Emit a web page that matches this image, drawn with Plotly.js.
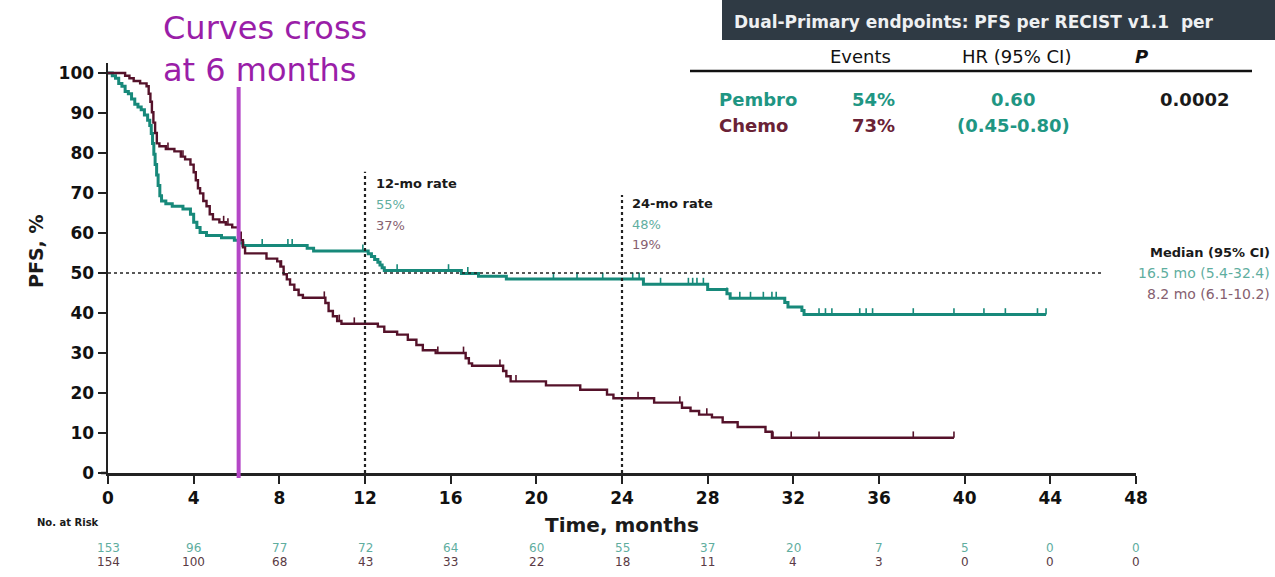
<!DOCTYPE html>
<html>
<head>
<meta charset="utf-8">
<script src="https://cdn.plot.ly/plotly-3.0.1.min.js"></script>
<style>html,body{margin:0;padding:0;background:#fff;}#chart{width:1275px;height:577px;}</style>
</head>
<body>
<div id="chart"></div>
<script>
// ---------------- DATA ----------------
const xTicks = [0, 4, 8, 12, 16, 20, 24, 28, 32, 36, 40, 44, 48];
const yTicks = [0, 10, 20, 30, 40, 50, 60, 70, 80, 90, 100];

// Pembro KM step curve (time in months, PFS %)
const pembroT = [0, 0.2, 0.35, 0.5, 0.65, 0.8, 0.95, 1.1, 1.25, 1.4, 1.55, 1.7, 1.85, 1.95, 2.02, 2.08, 2.14, 2.2, 2.27, 2.34, 2.42, 2.5, 2.7, 3.0, 3.5, 3.85, 4.0, 4.15, 4.3, 4.6, 5.3, 5.9, 6.1, 6.3, 9.3, 9.6, 12.15, 12.3, 12.45, 12.6, 12.7, 12.8, 12.9, 16.5, 17.3, 18.6, 25.0, 28.0, 28.9, 29.05, 31.6, 31.75, 32.4, 32.5, 43.8];
const pembroS = [100, 99.3, 98.7, 97.4, 96.7, 95.4, 94.8, 93.5, 92.2, 91.5, 90.8, 89.5, 88.2, 86.9, 84.9, 82.4, 79.7, 77.1, 74.5, 71.9, 69.3, 68.0, 67.3, 66.7, 66.0, 64.7, 62.7, 61.4, 60.1, 59.4, 58.8, 58.2, 57.5, 56.9, 56.2, 55.5, 54.8, 54.1, 53.4, 52.7, 52.0, 51.3, 50.6, 49.9, 49.2, 48.5, 47.2, 45.9, 44.8, 43.7, 42.6, 41.5, 40.6, 39.6, 39.6];
const pembroCensor = [7.2, 8.4, 8.6, 11.9, 13.5, 15.9, 16.8, 20.8, 21.9, 23.1, 24.5, 24.8, 25.8, 27.1, 27.3, 27.5, 27.8, 28.9, 29.5, 30.0, 30.6, 31.0, 31.2, 33.2, 33.5, 33.8, 35.1, 35.4, 35.7, 37.6, 39.5, 40.9, 41.9, 43.4, 43.8];

// Chemo KM step curve
const chemoT = [0, 0.8, 1.0, 1.2, 1.5, 1.8, 1.9, 1.98, 2.05, 2.12, 2.2, 2.28, 2.4, 2.7, 3.1, 3.4, 3.6, 3.85, 4.0, 4.1, 4.2, 4.3, 4.45, 4.6, 4.75, 4.9, 5.2, 5.5, 5.8, 6.1, 6.2, 6.3, 6.4, 7.4, 7.9, 8.05, 8.2, 8.35, 8.5, 8.7, 8.9, 9.1, 10.15, 10.3, 10.5, 10.7, 10.9, 12.6, 12.9, 13.5, 14.0, 14.4, 14.7, 15.3, 16.7, 16.85, 17.0, 18.45, 18.6, 18.8, 20.45, 22.05, 23.3, 23.6, 25.5, 26.8, 27.2, 27.6, 28.2, 28.7, 29.4, 30.7, 31.0, 39.5];
const chemoS = [100, 99.3, 98.7, 98.0, 97.4, 96.7, 94.8, 92.8, 90.2, 87.6, 85.0, 82.4, 81.7, 81.0, 80.4, 79.1, 78.4, 77.1, 75.2, 73.2, 71.2, 69.9, 68.0, 66.7, 64.7, 63.4, 62.7, 62.1, 61.4, 60.1, 58.2, 56.4, 54.9, 53.6, 52.9, 51.6, 49.7, 48.4, 47.1, 45.8, 44.5, 43.8, 42.5, 40.5, 39.2, 38.0, 37.3, 36.6, 35.3, 34.6, 33.3, 32.0, 30.7, 30.0, 28.7, 27.4, 26.8, 25.5, 24.2, 22.9, 21.9, 20.8, 19.6, 18.7, 17.6, 16.3, 15.5, 14.6, 13.9, 12.7, 11.5, 10.3, 8.8, 8.8];
const chemoCensor = [2.8, 3.5, 5.4, 5.6, 8.1, 10.1, 10.8, 11.5, 15.4, 16.6, 18.3, 19.05, 24.75, 26.7, 27.96, 31.05, 31.9, 33.2, 37.6, 39.5];

// Numbers at risk
const atRiskPembro = [153, 96, 77, 72, 64, 60, 55, 37, 20, 7, 5, 0, 0];
const atRiskChemo = [154, 100, 68, 43, 33, 22, 18, 11, 4, 3, 0, 0, 0];

// Texts
const crossText = ["Curves cross", "at 6 months"];
const crossMonth = 6.1;
const medianLevel = 50;
const rateMonths = [12, 24];
const rateTitles = ["12-mo rate", "24-mo rate"];
const ratePembro = ["55%", "48%"];
const rateChemo = ["37%", "19%"];
const bannerText = "Dual-Primary endpoints: PFS per RECIST v1.1  per";
const tableHeader = ["Events", "HR (95% CI)", "<i>P</i>"];
const armNames = ["Pembro", "Chemo"];
const armEvents = ["54%", "73%"];
const hrText = ["0.60", "(0.45-0.80)"];
const pText = "0.0002";
const medianTitle = "Median (95% CI)";
const medianTexts = ["16.5 mo (5.4-32.4)", "8.2 mo (6.1-10.2)"];
const xTitle = "Time, months";
const yTitle = "PFS, %";
const atRiskTitle = "No. at Risk";

// ---------------- STYLE ----------------
const TEAL = '#17897a';
const TEAL_TXT = '#1f9683';
const TEAL_LIGHT = '#5fae9f';
const MAROON = '#55122a';
const MAROON_TXT = '#6a2236';
const MAROON_LIGHT = '#866070';
const PURPLE = '#9a1ea8';
const PURPLE_LINE = '#b446c6';
const FONT = 'DejaVu Sans, Arial, sans-serif';

// plot box in pixels
const L = 108, R = 1136, T = 63, B = 473;
const px2x = p => (p - L) / (R - L);
const py2y = p => (B - p) / (B - T);

function stepAt(ts, ss, t) {
  let v = ss[0];
  for (let i = 0; i < ts.length; i++) { if (ts[i] <= t) v = ss[i]; }
  return v;
}

function ann(text, px, py, size, color, opts) {
  return Object.assign({
    xref: 'paper', yref: 'paper', x: px2x(px), y: py2y(py),
    text: text, showarrow: false, xanchor: 'left', yanchor: 'middle',
    font: { family: FONT, size: size, color: color }
  }, opts || {});
}

const censorTrace = (ts, ss, times, color) => ({
  x: times, y: times.map(t => stepAt(ts, ss, t)),
  mode: 'markers', type: 'scatter', hoverinfo: 'skip', showlegend: false,
  marker: { size: 1, color: color, opacity: 0 },
  error_y: { type: 'data', symmetric: false, array: times.map(() => 1.6), arrayminus: times.map(() => 0), width: 0, thickness: 1.6, color: color }
});

const traces = [
  { x: pembroT, y: pembroS, type: 'scatter', mode: 'lines', line: { shape: 'hv', color: TEAL, width: 3 }, name: armNames[0], showlegend: false },
  { x: chemoT, y: chemoS, type: 'scatter', mode: 'lines', line: { shape: 'hv', color: MAROON, width: 2.4 }, name: armNames[1], showlegend: false },
  censorTrace(pembroT, pembroS, pembroCensor, TEAL),
  censorTrace(chemoT, chemoS, chemoCensor, MAROON)
];

const shapes = [
  // median dashed line
  { type: 'line', xref: 'x', yref: 'y', x0: 0, x1: 46.4, y0: medianLevel, y1: medianLevel, line: { color: '#222', width: 1.4, dash: '3px,3px' } },
  // rate dotted verticals
  { type: 'line', xref: 'x', yref: 'y', x0: rateMonths[0], x1: rateMonths[0], y0: 0, y1: 75.3, line: { color: '#222', width: 2.2, dash: 'dot' } },
  { type: 'line', xref: 'x', yref: 'y', x0: rateMonths[1], x1: rateMonths[1], y0: 0, y1: 69.5, line: { color: '#222', width: 2.2, dash: 'dot' } },
  // crossing line
  { type: 'line', xref: 'x', yref: 'paper', x0: crossMonth, x1: crossMonth, y0: py2y(478), y1: py2y(87), line: { color: PURPLE_LINE, width: 4 } },
  // x axis stub left of origin
  { type: 'line', xref: 'paper', yref: 'paper', x0: px2x(101), x1: px2x(108), y0: 0, y1: 0, line: { color: '#222', width: 2.5 } },
  // banner
  { type: 'rect', xref: 'paper', yref: 'paper', x0: px2x(722), x1: px2x(1290), y0: py2y(40), y1: py2y(-5), fillcolor: '#2f3a44', line: { width: 0 } },
  // table header rule
  { type: 'line', xref: 'paper', yref: 'paper', x0: px2x(690), x1: px2x(1252), y0: py2y(71), y1: py2y(71), line: { color: '#111', width: 2.5 } }
];

const annotations = [
  ann(crossText[0], 161, 28, 32, PURPLE),
  ann(crossText[1], 161, 70, 32, PURPLE),
  ann('<b>' + bannerText + '</b>', 732, 22, 17, '#eef0f2'),
  ann(tableHeader[0], 860, 57, 18, '#111', { xanchor: 'center' }),
  ann(tableHeader[1], 1016, 57, 18, '#111', { xanchor: 'center' }),
  ann('<b>' + tableHeader[2] + '</b>', 1141, 57, 18, '#111', { xanchor: 'center' }),
  ann('<b>' + armNames[0] + '</b>', 717, 100, 18, TEAL_TXT),
  ann('<b>' + armNames[1] + '</b>', 717, 125, 18, MAROON_TXT),
  ann('<b>' + armEvents[0] + '</b>', 873, 100, 18, TEAL_TXT, { xanchor: 'center' }),
  ann('<b>' + armEvents[1] + '</b>', 873, 125, 18, MAROON_TXT, { xanchor: 'center' }),
  ann('<b>' + hrText[0] + '</b>', 1013, 100, 18, TEAL_TXT, { xanchor: 'center' }),
  ann('<b>' + hrText[1] + '</b>', 1013, 125, 18, TEAL_TXT, { xanchor: 'center' }),
  ann('<b>' + pText + '</b>', 1158, 100, 18, '#1a1a1a'),
  ann('<b>' + medianTitle + '</b>', 1272, 252, 13, '#1a1a1a', { xanchor: 'right' }),
  ann(medianTexts[0], 1272, 273, 14, TEAL_LIGHT, { xanchor: 'right' }),
  ann(medianTexts[1], 1272, 294, 14, MAROON_LIGHT, { xanchor: 'right' }),
  ann('<b>' + xTitle + '</b>', 622, 525, 20, '#1a1a1a', { xanchor: 'center' }),
  ann('<b>' + yTitle + '</b>', 36, 252, 19, '#1a1a1a', { xanchor: 'center', textangle: -90 }),
  ann('<b>' + atRiskTitle + '</b>', 68, 522, 10, '#1a1a1a', { xanchor: 'center' })
];

// rate labels
const rateLeft = [374, 630];
const rateTop = [183, 203];
rateMonths.forEach((m, i) => {
  annotations.push(ann('<b>' + rateTitles[i] + '</b>', rateLeft[i], rateTop[i], 13, '#1a1a1a'));
  annotations.push(ann(ratePembro[i], rateLeft[i], rateTop[i] + 21, 13, TEAL_LIGHT));
  annotations.push(ann(rateChemo[i], rateLeft[i], rateTop[i] + 42, 13, MAROON_LIGHT));
});

// numbers at risk
xTicks.forEach((t, i) => {
  annotations.push({ xref: 'x', yref: 'paper', x: t, y: py2y(548), text: String(atRiskPembro[i]), showarrow: false, xanchor: 'center', yanchor: 'middle', font: { family: FONT, size: 12, color: TEAL_LIGHT } });
  annotations.push({ xref: 'x', yref: 'paper', x: t, y: py2y(562), text: String(atRiskChemo[i]), showarrow: false, xanchor: 'center', yanchor: 'middle', font: { family: FONT, size: 12, color: '#5a3a44' } });
});

const layout = {
  width: 1275, height: 577,
  margin: { l: L, r: 1275 - R, t: T, b: 577 - B, pad: 0 },
  paper_bgcolor: '#ffffff', plot_bgcolor: '#ffffff',
  showlegend: false,
  xaxis: {
    range: [0, 48], tickvals: xTicks, ticktext: xTicks.map(String),
    ticks: 'outside', ticklen: 8, tickwidth: 2, tickcolor: '#222',
    showline: true, linewidth: 2.5, linecolor: '#222',
    showgrid: false, zeroline: false, fixedrange: true,
    tickfont: { family: FONT, size: 17, color: '#111', weight: 'bold' }
  },
  yaxis: {
    range: [0, 102.5], tickvals: yTicks, ticktext: yTicks.map(String),
    ticks: 'outside', ticklen: 8, tickwidth: 2, tickcolor: '#222',
    showline: true, linewidth: 2.5, linecolor: '#222',
    showgrid: false, zeroline: false, fixedrange: true,
    tickfont: { family: FONT, size: 17, color: '#111', weight: 'bold' }
  },
  shapes: shapes,
  annotations: annotations
};

Plotly.newPlot('chart', traces, layout, { displayModeBar: false, staticPlot: true });
</script>
</body>
</html>
